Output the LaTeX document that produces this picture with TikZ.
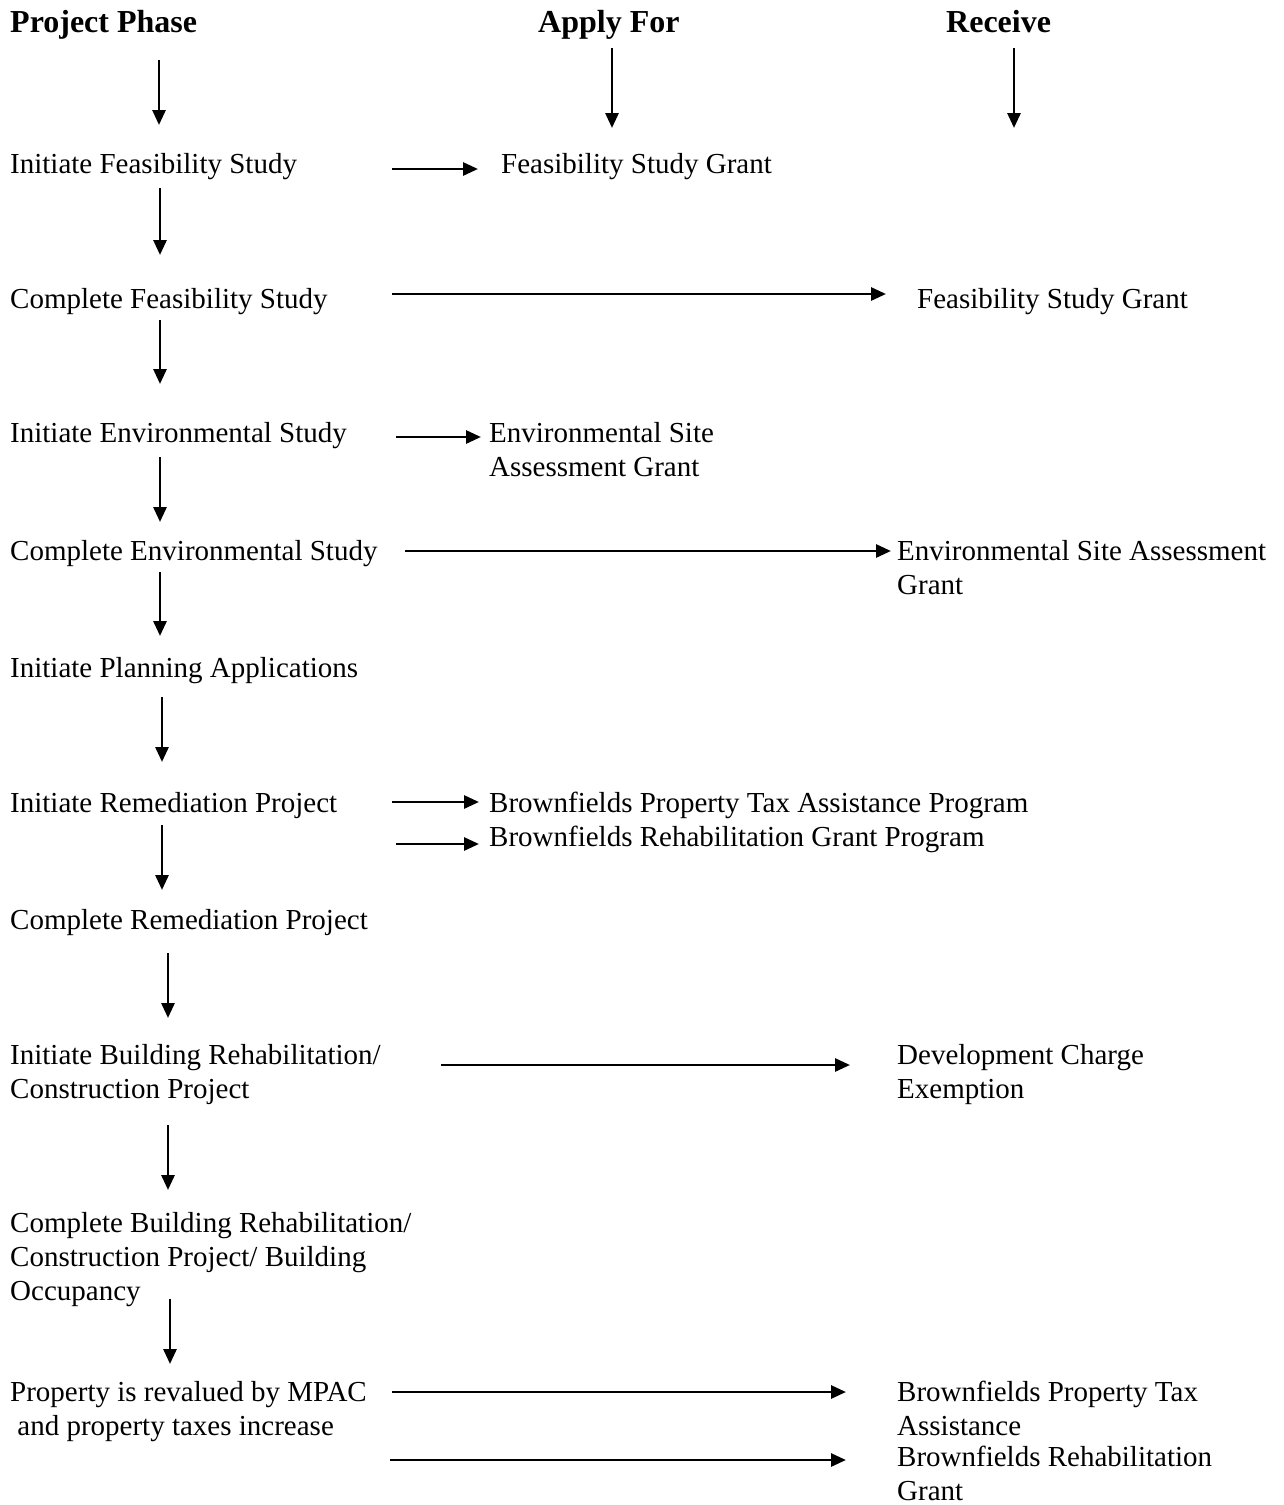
\documentclass[tikz,border=0pt]{standalone}
\usepackage{fontspec}
\setmainfont{Liberation Serif}
\usetikzlibrary{arrows.meta}
\begin{document}
\begin{tikzpicture}[x=1pt,y=-1pt,
  txt/.style={anchor=base west,inner sep=0pt,align=left,font=\fontsize{29}{34}\selectfont},
  hdr/.style={anchor=base west,inner sep=0pt,font=\fontsize{32}{38}\selectfont\bfseries},
  arr/.style={line width=2.8pt,-{Triangle[length=15pt,width=13pt]}}]
\useasboundingbox[fill=white] (0,0) rectangle (1283,1505);
% headers
\node[hdr] (hp) at (10,32) {Project Phase};
\node[hdr] (ha) at (538,32) {Apply For};
\node[hdr] (hr) at (946,32) {Receive};
% left column (base = baseline of the last line)
\node[txt] (p1) at (10,173) {Initiate Feasibility Study};
\node[txt] (p2) at (10,308) {Complete Feasibility Study};
\node[txt] (p3) at (10,442) {Initiate Environmental Study};
\node[txt] (p4) at (10,560) {Complete Environmental Study};
\node[txt] (p5) at (10,677) {Initiate Planning Applications};
\node[txt] (p6) at (10,812) {Initiate Remediation Project};
\node[txt] (p7) at (10,929) {Complete Remediation Project};
\node[txt] (p8) at (10,1098) {Initiate Building Rehabilitation/\\Construction Project};
\node[txt] (p9) at (10,1300) {Complete Building Rehabilitation/\\Construction Project/ Building\\Occupancy};
\node[txt] (p10) at (10,1435) {Property is revalued by MPAC\\\ and property taxes increase};
% apply column
\node[txt] (a1) at (501,173) {Feasibility Study Grant};
\node[txt] (a2) at (489,476) {Environmental Site\\Assessment Grant};
\node[txt] (a3) at (489,812) {Brownfields Property Tax Assistance Program};
\node[txt] (a4) at (489,846) {Brownfields Rehabilitation Grant Program};
% receive column
\node[txt] (r1) at (917,308) {Feasibility Study Grant};
\node[txt] (r2) at (897,594) {Environmental Site Assessment\\Grant};
\node[txt] (r3) at (897,1098) {Development Charge\\Exemption};
\node[txt] (r4) at (897,1435) {Brownfields Property Tax\\Assistance};
\node[txt] (r5) at (897,1500) {Brownfields Rehabilitation\\Grant};
% connector end points
\coordinate (hp1) at (159,60);   \coordinate (hp2) at (159,125);
\coordinate (ha1) at (612,48);   \coordinate (ha2) at (612,128);
\coordinate (hr1) at (1014,48);  \coordinate (hr2) at (1014,128);
\coordinate (v1a) at (160,188);  \coordinate (v1b) at (160,255);
\coordinate (v2a) at (160,320);  \coordinate (v2b) at (160,384);
\coordinate (v3a) at (160,457);  \coordinate (v3b) at (160,522);
\coordinate (v4a) at (160,572);  \coordinate (v4b) at (160,636);
\coordinate (v5a) at (162,697);  \coordinate (v5b) at (162,762);
\coordinate (v6a) at (162,825);  \coordinate (v6b) at (162,890);
\coordinate (v7a) at (168,953);  \coordinate (v7b) at (168,1018);
\coordinate (v8a) at (168,1125); \coordinate (v8b) at (168,1190);
\coordinate (v9a) at (170,1299); \coordinate (v9b) at (170,1364);
\coordinate (h1a) at (392,169);  \coordinate (h1b) at (478,169);
\coordinate (h2a) at (392,294);  \coordinate (h2b) at (886,294);
\coordinate (h3a) at (396,437);  \coordinate (h3b) at (481,437);
\coordinate (h4a) at (405,551);  \coordinate (h4b) at (891,551);
\coordinate (h5a) at (392,802);  \coordinate (h5b) at (479,802);
\coordinate (h6a) at (396,844);  \coordinate (h6b) at (479,844);
\coordinate (h7a) at (441,1065); \coordinate (h7b) at (850,1065);
\coordinate (h8a) at (392,1392); \coordinate (h8b) at (846,1392);
\coordinate (h9a) at (390,1460); \coordinate (h9b) at (846,1460);
% vertical arrows
\foreach \a/\b in {hp1/hp2,ha1/ha2,hr1/hr2,v1a/v1b,v2a/v2b,v3a/v3b,v4a/v4b,v5a/v5b,v6a/v6b,v7a/v7b,v8a/v8b,v9a/v9b}
  \draw[arr] (\a) -- (\b);
% horizontal arrows
\foreach \a/\b in {h1a/h1b,h2a/h2b,h3a/h3b,h4a/h4b,h5a/h5b,h6a/h6b,h7a/h7b,h8a/h8b,h9a/h9b}
  \draw[arr] (\a) -- (\b);
\end{tikzpicture}
\end{document}
